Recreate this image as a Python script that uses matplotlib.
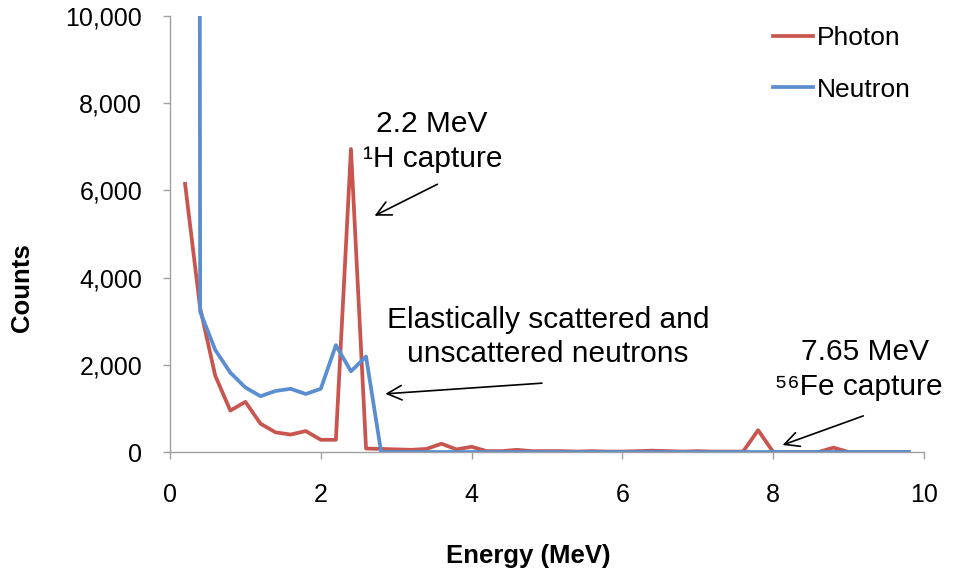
import numpy as np
import matplotlib
matplotlib.use('Agg')
import matplotlib.pyplot as plt
from matplotlib.ticker import FuncFormatter

plt.rcParams['font.family'] = ['Liberation Sans', 'DejaVu Sans']

# energy bins (MeV)
energy = [0.2, 0.4, 0.6, 0.8, 1.0, 1.2, 1.4, 1.6, 1.8, 2.0,
          2.2, 2.4, 2.6, 2.8, 3.0, 3.2, 3.4, 3.6, 3.8, 4.0,
          4.2, 4.4, 4.6, 4.8, 5.0, 5.2, 5.4, 5.6, 5.8, 6.0,
          6.2, 6.4, 6.6, 6.8, 7.0, 7.2, 7.4, 7.6, 7.8, 8.0,
          8.2, 8.4, 8.6, 8.8, 9.0, 9.2, 9.4, 9.6, 9.8]

photon = [6150, 3300, 1750, 950, 1150, 650, 450, 400, 480, 280,
          280, 6950, 80, 70, 60, 50, 70, 190, 60, 120,
          20, 20, 50, 20, 20, 20, 10, 20, 10, 10,
          20, 30, 20, 10, 20, 10, 10, 10, 500, 0,
          0, 0, 0, 100, 0, 0, 0, 0, 0]

neutron = [300000, 3220, 2340, 1820, 1480, 1280, 1400, 1450, 1330, 1450,
           2450, 1850, 2190, 0, 0, 0, 0, 0, 0, 0,
           0, 0, 0, 0, 0, 0, 0, 0, 0, 0,
           0, 0, 0, 0, 0, 0, 0, 0, 0, 0,
           0, 0, 0, 0, 0, 0, 0, 0, 0]

red = '#C9554F'
blue = '#5A8ED0'

fig = plt.figure(figsize=(9.56, 5.75), dpi=100)
ax = fig.add_axes([170/956, 1 - 452/575, (924 - 170)/956, (452 - 16)/575])

ax.plot(energy, photon, color=red, lw=2.7, label='Photon')
ax.plot(energy, neutron, color=blue, lw=2.7, label='Neutron')

ax.set_xlim(0, 10)
ax.set_ylim(0, 10000)
ax.set_xticks([0, 2, 4, 6, 8, 10])
ax.set_yticks([0, 2000, 4000, 6000, 8000, 10000])
ax.yaxis.set_major_formatter(FuncFormatter(lambda v, p: f'{int(v):,}'))

for s in ['top', 'right']:
    ax.spines[s].set_visible(False)
for s in ['left', 'bottom']:
    ax.spines[s].set_color('#A0A0A0')
    ax.spines[s].set_linewidth(1)
ax.tick_params(axis='both', colors='#A0A0A0', labelcolor='black', length=5,
               width=1, labelsize=18)
ax.tick_params(axis='x', pad=17)
ax.tick_params(axis='y', pad=15)

fig.text(22/956, 1 - 288/575, 'Counts', rotation=90, ha='center', va='center',
         fontsize=18.5, fontweight='bold')
fig.text(528/956, 1 - 563/575, 'Energy (MeV)', ha='center', va='baseline',
         fontsize=18.5, fontweight='bold')

# annotations
fs = 21.5
arrow = dict(arrowstyle='->', lw=1.2, color='black', mutation_scale=26)
ax.text(3.47, 7340, '2.2 MeV', ha='center', va='baseline', fontsize=fs)
ax.text(3.49, 6545, '\u00b9H capture', ha='center', va='baseline', fontsize=fs)
ax.annotate('', xy=(2.68, 5390), xytext=(3.58, 6170), arrowprops=arrow)

ax.text(5.01, 2845, 'Elastically scattered and', ha='center', va='baseline', fontsize=fs)
ax.text(5.01, 2064, 'unscattered neutrons', ha='center', va='baseline', fontsize=fs)
ax.annotate('', xy=(2.82, 1330), xytext=(4.97, 1583), arrowprops=arrow)

ax.text(9.22, 2110, '7.65 MeV', ha='center', va='baseline', fontsize=fs)
ax.text(9.14, 1307, '\u2075\u2076Fe capture', ha='center', va='baseline', fontsize=fs)
ax.annotate('', xy=(8.09, 138), xytext=(9.23, 850), arrowprops=arrow,
            annotation_clip=False)

ax.legend(loc='upper left', bbox_to_anchor=(773/956, 1 - 26/575),
          bbox_transform=fig.transFigure, frameon=False, fontsize=19,
          handlelength=1.5, handletextpad=0.15, labelspacing=1.05,
          borderpad=0, borderaxespad=0)

fig.savefig('out.png', dpi=100)
